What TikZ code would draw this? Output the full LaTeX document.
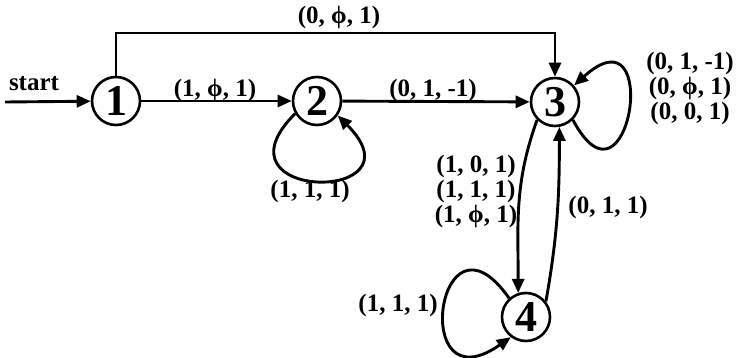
\documentclass[tikz,border=0pt]{standalone}
\usepackage{fontspec}
\setmainfont{Liberation Serif}
\usetikzlibrary{arrows.meta,positioning,shapes.geometric}

\begin{document}
\begin{tikzpicture}[
  x=1pt,y=-1pt,
  state/.style={circle,draw,line width=2.6pt,minimum size=48pt,inner sep=0pt,font=\fontsize{44}{44}\selectfont\bfseries},
  lbl/.style={inner sep=0pt,align=center,font=\fontsize{25}{25}\selectfont\bfseries},
  arrow/.style={-{Triangle[length=14pt,width=12pt]},line width=2.9pt}
]
\useasboundingbox (0,0) rectangle (740,358);
\node[state] (s1) at (116,101) {1};
\node[state] (s2) at (317,101) {2};
\node[state] (s3) at (555,102) {3};
\node[state] (s4) at (526,317) {4};
\coordinate (entry) at (5,102);
\coordinate (topbend) at (330,33);
% transitions
\draw[arrow] (entry) -- (s1);
\draw[arrow] (s1) -- (s2);
\draw[arrow] (s2) -- (s3);
\draw[arrow] (s1.north) |- (topbend) -| (s3.north);
\draw[arrow] (s2.210) to[out=225,in=-45,distance=125pt] (s2.-35);
\draw[arrow] (s3.-45) to[out=-62,in=42,distance=120pt] (s3.41);
\draw[arrow] (s3.225) to[out=250,in=90] (s4.108);
\draw[arrow] (s4.38) to[out=80,in=-90] (s3.-80);
\draw[arrow] (s4.132) to[out=125,in=215,distance=125pt] (s4.233);
% labels
\node[lbl] (startlbl) at (34,84) {start};
\node[lbl] (l13) at (339,17) {(0, ϕ, 1)};
\node[lbl] (l12) at (215,90) {(1, ϕ, 1)};
\node[lbl] (l23) at (433,90) {(0, 1, -1)};
\node[lbl] (l22) at (310,191) {(1, 1, 1)};
\node[lbl] (l33) at (690,88) {(0, 1, -1)\\(0, ϕ, 1)\\(0, 0, 1)};
\node[lbl] (l34) at (476,191) {(1, 0, 1)\\(1, 1, 1)\\(1, ϕ, 1)};
\node[lbl] (l43) at (608,207) {(0, 1, 1)};
\node[lbl] (l44) at (398,305) {(1, 1, 1)};
\end{tikzpicture}
\end{document}
